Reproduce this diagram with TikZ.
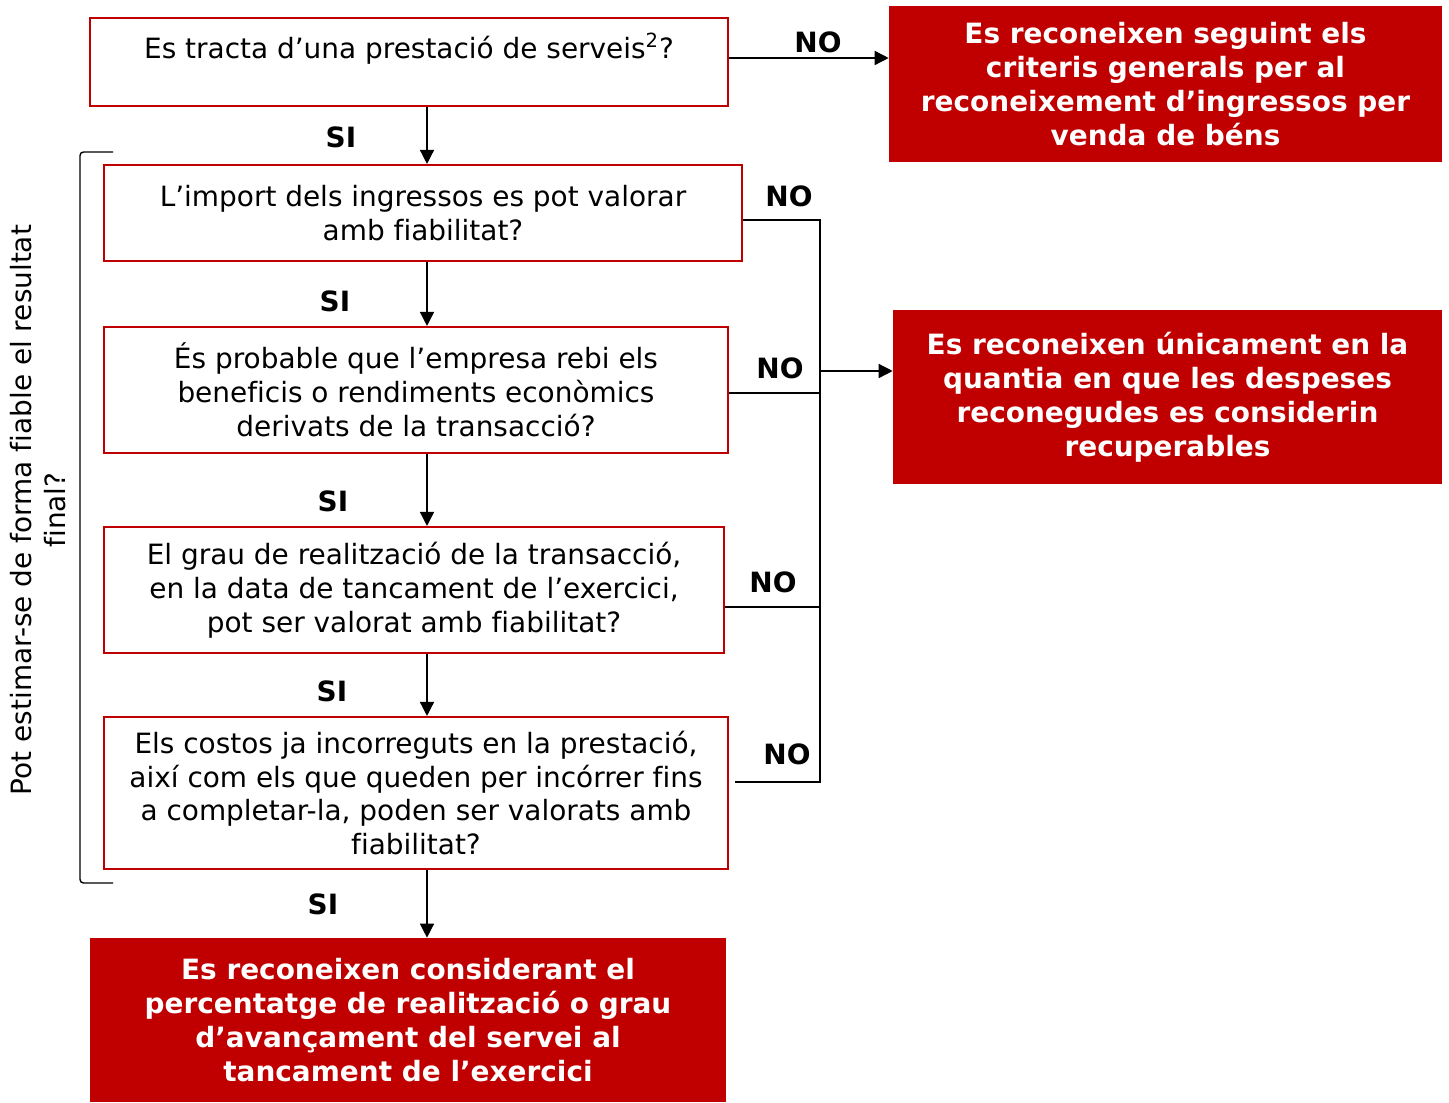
\documentclass[tikz,border=0pt]{standalone}
\usepackage{fontspec}
\setmainfont{DejaVu Sans}[Ligatures=NoCommon]
\usetikzlibrary{arrows.meta,positioning}
\definecolor{boxred}{HTML}{C00000}
\newcommand{\fsz}{\fontsize{15.9}{19.3}\selectfont}
\tikzset{
	question/.style={draw=boxred, line width=1.2pt, fill=white, align=center, inner sep=0pt, font=\fsz},
	answer/.style={fill=boxred, text=white, align=center, inner sep=0pt, font=\fsz\bfseries},
	yesno/.style={font=\fsz\bfseries, inner sep=0pt},
	flow/.style={line width=0.8pt, -{Triangle[length=8pt,width=8pt]}},
	wire/.style={line width=0.8pt},
}

\begin{document}
\begin{tikzpicture}[x=0.02cm, y=-0.02cm]
			%%%%% START %%%%%
			\useasboundingbox (0,0) rectangle (1449,1102);
			
			\node[question, anchor=north, minimum width=12.76cm, text height=0.80cm, text depth=0.96cm] (q1) at (409,17) {Es tracta d’una prestació de serveis\textsuperscript{2}?};
			\node[question, minimum width=12.76cm, minimum height=1.92cm] (q2) at (423,213) {L’import dels ingressos es pot valorar\\amb fiabilitat?};
			\node[question, minimum width=12.48cm, minimum height=2.52cm] (q3) at (416,390) {És probable que l’empresa rebi els\\beneficis o rendiments econòmics\\derivats de la transacció?};
			\node[question, minimum width=12.40cm, minimum height=2.52cm] (q4) at (414,590) {El grau de realització de la transacció,\\en la data de tancament de l’exercici,\\pot ser valorat amb fiabilitat?};
			\node[question, minimum width=12.48cm, minimum height=3.04cm] (q5) at (416,793) {Els costos ja incorreguts en la prestació,\\així com els que queden per incórrer fins\\a completar-la, poden ser valorats amb\\fiabilitat?};
			
			\node[answer, minimum width=11.06cm, minimum height=3.12cm] (r1) at (1165.5,84) {Es reconeixen seguint els\\criteris generals per al\\reconeixement d’ingressos per\\venda de béns};
			\node[answer, minimum width=10.98cm, minimum height=3.48cm] (r2) at (1167.5,397) {Es reconeixen únicament en la\\quantia en que les despeses\\reconegudes es considerin\\recuperables};
			\node[answer, minimum width=12.72cm, minimum height=3.28cm] (r3) at (408,1020) {Es reconeixen considerant el\\percentatge de realització o grau\\d’avançament del servei al\\tancament de l’exercici};
			
			% SI
			\coordinate (spine) at (427,0);
			\draw[flow] (q1.south -| spine) -- (q2.north -| spine);
			\draw[flow] (q2.south -| spine) -- (q3.north -| spine);
			\draw[flow] (q3.south -| spine) -- (q4.north -| spine);
			\draw[flow] (q4.south -| spine) -- (q5.north -| spine);
			\draw[flow] (q5.south -| spine) -- (r3.north -| spine);
			\node[yesno] (si1) at (341,137) {SI};
			\node[yesno] (si2) at (335,301) {SI};
			\node[yesno] (si3) at (333,501) {SI};
			\node[yesno] (si4) at (332,691) {SI};
			\node[yesno] (si5) at (323,904) {SI};
			
			% NO
			\coordinate (bus) at (820,0);
			\coordinate (tap5) at (735,782);
			\draw[flow] (q1.east |- 0,58) -- (r1.west |- 0,58);
			\draw[wire] (q2.east |- 0,220) -| (bus |- tap5) -- (tap5);
			\draw[wire] (q3.east |- 0,393) -- (bus |- 0,393);
			\draw[wire] (q4.east |- 0,607) -- (bus |- 0,607);
			\draw[flow] (bus |- 0,371) -- (r2.west |- 0,371);
			\node[yesno] (no1) at (818,42) {NO};
			\node[yesno] (no2) at (789,196) {NO};
			\node[yesno] (no3) at (780,368) {NO};
			\node[yesno] (no4) at (773,582) {NO};
			\node[yesno] (no5) at (787,754) {NO};
			
			% bracket
			\draw[line width=0.8pt, rounded corners=2pt] (113,152) -- (80,152) -- (80,883) -- (113,883);
			\node[rotate=90, align=center, font=\fsz] (side) at (38,510) {Pot estimar-se de forma fiable el resultat\\final?};
			
			%%%%% END %%%%%
\end{tikzpicture}
\end{document}
